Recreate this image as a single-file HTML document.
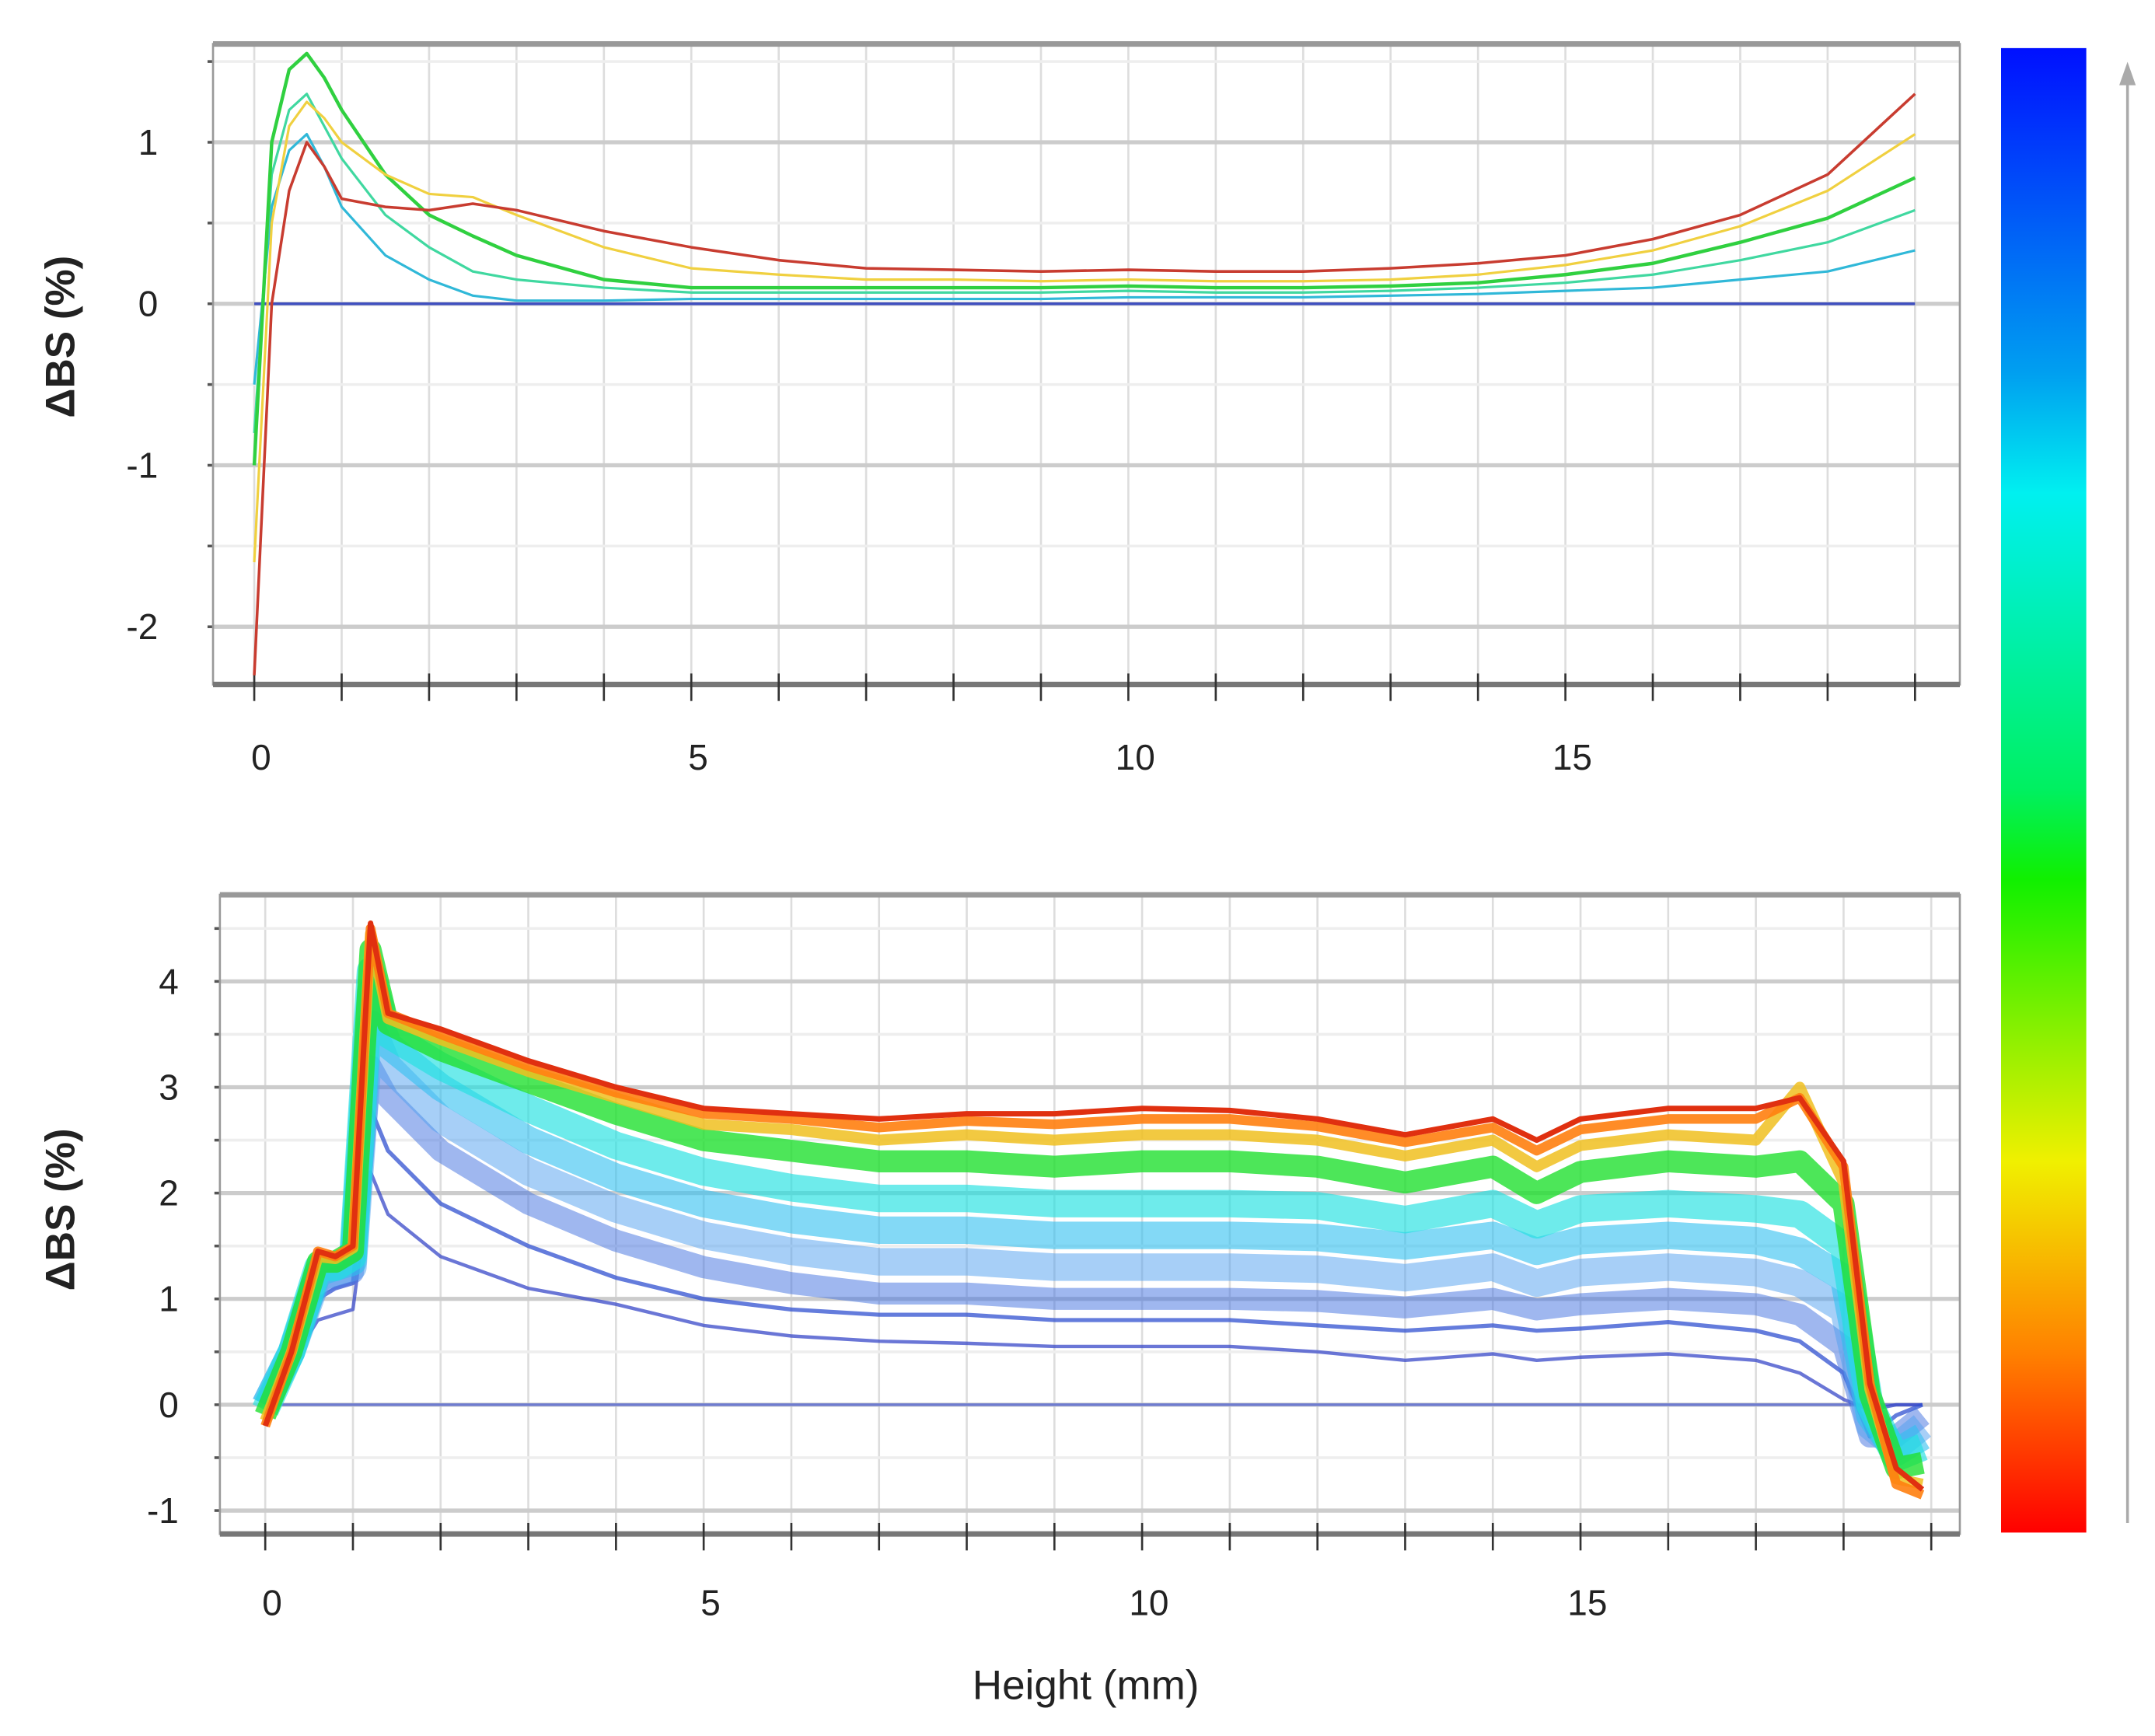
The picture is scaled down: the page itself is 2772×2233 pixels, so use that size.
<!DOCTYPE html>
<html><head><meta charset="utf-8"><style>
html,body{margin:0;padding:0;background:#fff;}
svg{display:block;}
text{font-family:"Liberation Sans Narrow","Liberation Sans",sans-serif;fill:#222;}
</style></head><body>
<svg id="fig" width="2772" height="2233" viewBox="0 0 1568 1263" preserveAspectRatio="none" xmlns="http://www.w3.org/2000/svg">
<defs>
<linearGradient id="cbar" x1="0" y1="0" x2="0" y2="1">
<stop offset="0" stop-color="#0010ff"/><stop offset="0.22" stop-color="#00a0f0"/><stop offset="0.3" stop-color="#00f0f0"/><stop offset="0.5" stop-color="#00f060"/><stop offset="0.56" stop-color="#10f000"/><stop offset="0.75" stop-color="#f0f000"/><stop offset="0.88" stop-color="#ff8000"/><stop offset="1" stop-color="#ff0000"/>
</linearGradient>
</defs>
<g id="top"></g>
<g id="bot"></g>
<rect x="1456" y="35" width="62" height="1080" fill="url(#cbar)"/>
<g>
<line x1="1548" y1="1108" x2="1548" y2="55" stroke="#aaa" stroke-width="2"/>
<path d="M1542,62 L1548,45 L1554,62 Z" fill="#aaa"/>
</g>
<text x="790" y="1236" font-size="30" text-anchor="middle">Height (mm)</text>
</svg>
<script>
// ---- top chart data ----
const topX = [0,0.2,0.4,0.6,0.8,1,1.5,2,2.5,3,4,5,6,7,8,9,10,11,12,13,14,15,16,17,18,19];
const topRed    = [-2.3,0,0.7,1.0,0.85,0.65,0.6,0.58,0.62,0.58,0.45,0.35,0.27,0.22,0.21,0.2,0.21,0.2,0.2,0.22,0.25,0.3,0.4,0.55,0.8,1.3];
const topYellow = [-1.6,0.5,1.1,1.25,1.15,1.0,0.8,0.68,0.66,0.55,0.35,0.22,0.18,0.15,0.15,0.14,0.15,0.14,0.14,0.15,0.18,0.24,0.33,0.48,0.7,1.05];
const topGreen  = [-1.0,1.0,1.45,1.55,1.4,1.2,0.8,0.55,0.42,0.3,0.15,0.1,0.1,0.1,0.1,0.1,0.11,0.1,0.1,0.11,0.13,0.18,0.25,0.38,0.53,0.78];
const topTeal   = [-0.8,0.8,1.2,1.3,1.1,0.9,0.55,0.35,0.2,0.15,0.1,0.07,0.07,0.07,0.07,0.07,0.08,0.07,0.07,0.08,0.1,0.13,0.18,0.27,0.38,0.58];
const topCyan   = [-0.5,0.6,0.95,1.05,0.85,0.6,0.3,0.15,0.05,0.02,0.02,0.03,0.03,0.03,0.03,0.03,0.04,0.04,0.04,0.05,0.06,0.08,0.1,0.15,0.2,0.33];
const topBase   = [0,0,0,0,0,0,0,0,0,0,0,0,0,0,0,0,0,0,0,0,0,0,0,0,0,0];
const topSeries = [["base",topBase,"#4050c0",2],["cyan",topCyan,"#30b8d8",1.8],["teal",topTeal,"#40d8a0",1.8],["green",topGreen,"#30d040",2.5],["yellow",topYellow,"#f0d040",1.8],["red",topRed,"#c83c30",2]];
const topYTicks = [1,0,-1,-2];
const topXTicks = [0,5,10,15];
// ---- bottom chart data ----
const botX = [0,0.3,0.6,0.8,1.0,1.2,1.4,2,3,4,5,6,7,8,9,10,11,12,13,14,14.5,15,16,17,17.5,18,18.3,18.6,18.9];
const bBlue1 = [0,0.4,0.8,0.85,0.9,2.2,1.8,1.4,1.1,0.95,0.75,0.65,0.6,0.58,0.55,0.55,0.55,0.5,0.42,0.48,0.42,0.45,0.48,0.42,0.3,0.05,-0.05,0,0];
const bBlue2 = [0,0.45,1.0,1.1,1.15,2.8,2.4,1.9,1.5,1.2,1.0,0.9,0.85,0.85,0.8,0.8,0.8,0.75,0.7,0.75,0.7,0.72,0.78,0.7,0.6,0.3,-0.3,-0.1,0];
const bBlue3 = [0,0.5,1.15,1.2,1.25,3.2,2.9,2.4,1.9,1.55,1.3,1.15,1.05,1.05,1.0,1.0,1.0,0.98,0.92,1.0,0.9,0.95,1.0,0.95,0.85,0.55,-0.3,-0.3,-0.1];
const bLight = [0,0.5,1.2,1.25,1.3,3.6,3.2,2.7,2.2,1.85,1.6,1.45,1.35,1.35,1.3,1.3,1.3,1.28,1.2,1.3,1.15,1.25,1.3,1.25,1.15,0.9,-0.2,-0.4,-0.2];
const bSky   = [0,0.5,1.25,1.3,1.35,3.9,3.4,3.0,2.5,2.15,1.9,1.75,1.65,1.65,1.6,1.6,1.6,1.58,1.5,1.6,1.45,1.55,1.6,1.55,1.45,1.2,-0.1,-0.45,-0.3];
const bCyan  = [-0.05,0.5,1.3,1.3,1.4,4.1,3.5,3.2,2.8,2.45,2.2,2.05,1.95,1.95,1.9,1.9,1.9,1.88,1.75,1.9,1.7,1.85,1.9,1.85,1.8,1.5,0,-0.5,-0.4];
const bGreen = [-0.1,0.5,1.35,1.35,1.45,4.3,3.6,3.35,3.05,2.75,2.5,2.4,2.3,2.3,2.25,2.3,2.3,2.25,2.1,2.25,2.0,2.2,2.3,2.25,2.3,1.9,0.1,-0.6,-0.55];
const bYellow= [-0.15,0.5,1.4,1.38,1.48,4.45,3.65,3.45,3.15,2.9,2.65,2.6,2.5,2.55,2.5,2.55,2.55,2.5,2.35,2.5,2.25,2.45,2.55,2.5,3.0,2.1,0.15,-0.7,-0.75];
const bOrange= [-0.2,0.5,1.45,1.4,1.5,4.5,3.7,3.5,3.2,2.95,2.75,2.7,2.62,2.68,2.65,2.7,2.7,2.63,2.48,2.62,2.4,2.6,2.7,2.7,2.9,2.25,0.2,-0.75,-0.85];
const bRed   = [-0.2,0.5,1.45,1.4,1.5,4.55,3.7,3.55,3.25,3.0,2.8,2.75,2.7,2.75,2.75,2.8,2.78,2.7,2.55,2.7,2.5,2.7,2.8,2.8,2.9,2.3,0.2,-0.6,-0.8];
const bBase  = [0,0,0,0,0,0,0,0,0,0,0,0,0,0,0,0,0,0,0,0,0,0,0,0,0,0,0,0,0];
const botSeries = [["base",bBase,"#5868d0",2,0.8],["blue1",bBlue1,"#3848c8",2.5,0.75],["blue2",bBlue2,"#3050d0",3,0.75],["blue3",bBlue3,"#4070e0",16,0.5],["light",bLight,"#50a0f0",20,0.5],["sky",bSky,"#30c0f0",20,0.6],["cyan",bCyan,"#20e0e0",20,0.65],["green",bGreen,"#20e030",16,0.8],["yellow",bYellow,"#f0c020",8,0.85],["orange",bOrange,"#ff8010",7,0.9],["red",bRed,"#e03010",4,1]];
const botYTicks = [4,3,2,1,0,-1];
const botXTicks = [0,5,10,15];

const NS="http://www.w3.org/2000/svg";
function mk(tag,attrs,parent){const e=document.createElementNS(NS,tag);for(const k in attrs)e.setAttribute(k,attrs[k]);parent.appendChild(e);return e;}

function drawChart(g,cfg,xs,series,yTicks,xTicks,name){
  const sx=v=>cfg.x0+v*cfg.xs, sy=v=>cfg.y0-v*cfg.ys;
  for(let v=0;v<=19;v++){const l=mk('line',{x1:sx(v),x2:sx(v),y1:cfg.top,y2:cfg.bot,stroke:'#ddd','stroke-width':1.5},g);
    
    }
  for(let v=cfg.ymin;v<=cfg.ymax+1e-9;v+=0.5){const major=Math.abs(v-Math.round(v))<1e-9;
    const l=mk('line',{x1:cfg.left,x2:cfg.right,y1:sy(v),y2:sy(v),stroke:major?'#ccc':'#eee','stroke-width':major?3:2},g);
    
    
    const t=mk('line',{x1:cfg.left-4,x2:cfg.left,y1:sy(v),y2:sy(v),stroke:'#555','stroke-width':2},g);
    
    }
  const fr=mk('rect',{x:cfg.left,y:cfg.top,width:cfg.right-cfg.left,height:cfg.bot-cfg.top,fill:'none',stroke:'#999','stroke-width':1.5},g);
  
  
  mk('line',{x1:cfg.left,x2:cfg.right,y1:cfg.top,y2:cfg.top,stroke:'#999','stroke-width':4},g);
  mk('line',{x1:cfg.left,x2:cfg.right,y1:cfg.bot,y2:cfg.bot,stroke:'#777','stroke-width':4},g);
  for(let v=0;v<=19;v++){const t=mk('line',{x1:sx(v),x2:sx(v),y1:cfg.bot-8,y2:cfg.bot+12,stroke:'#333','stroke-width':1.5},g);
    
    }
  series.forEach(s=>{const d=xs.map((x,i)=>(i?'L':'M')+sx(x).toFixed(1)+','+sy(s[1][i]).toFixed(1)).join(' ');
    const p=mk('path',{d:d,fill:'none',stroke:s[2],'stroke-width':s[3],'stroke-opacity':s[4]||1,'stroke-linejoin':'round'},g);
    
    });
  yTicks.forEach(v=>{const t=mk('text',{x:cfg.ylabX,y:sy(v)+9,'font-size':26,'text-anchor':'end'},g);t.textContent=v;
    
    });
  xTicks.forEach(v=>{const t=mk('text',{x:sx(v)+5,y:cfg.xlabY,'font-size':26,'text-anchor':'middle'},g);t.textContent=v;
    
    });
  const yt=mk('text',{x:0,y:0,'font-size':30,'font-weight':'bold','text-anchor':'middle',transform:'translate(54,'+cfg.titleY+') rotate(-90)',style:'font-family:"Liberation Sans",sans-serif'},g);
  yt.textContent='ΔBS (%)';
  
  
}
drawChart(document.getElementById('top'),{left:155,right:1426,top:32,bot:498,x0:185,xs:63.6,y0:221,ys:117.5,ymin:-2,ymax:1.5,ylabX:115,xlabY:560,titleY:245},topX,topSeries,topYTicks,topXTicks,'top');
drawChart(document.getElementById('bot'),{left:160,right:1426,top:651,bot:1116,x0:193,xs:63.8,y0:1022,ys:77,ymin:-1,ymax:4.5,ylabX:130,xlabY:1175,titleY:880},botX,botSeries,botYTicks,botXTicks,'bottom');
</script>
</body></html>
